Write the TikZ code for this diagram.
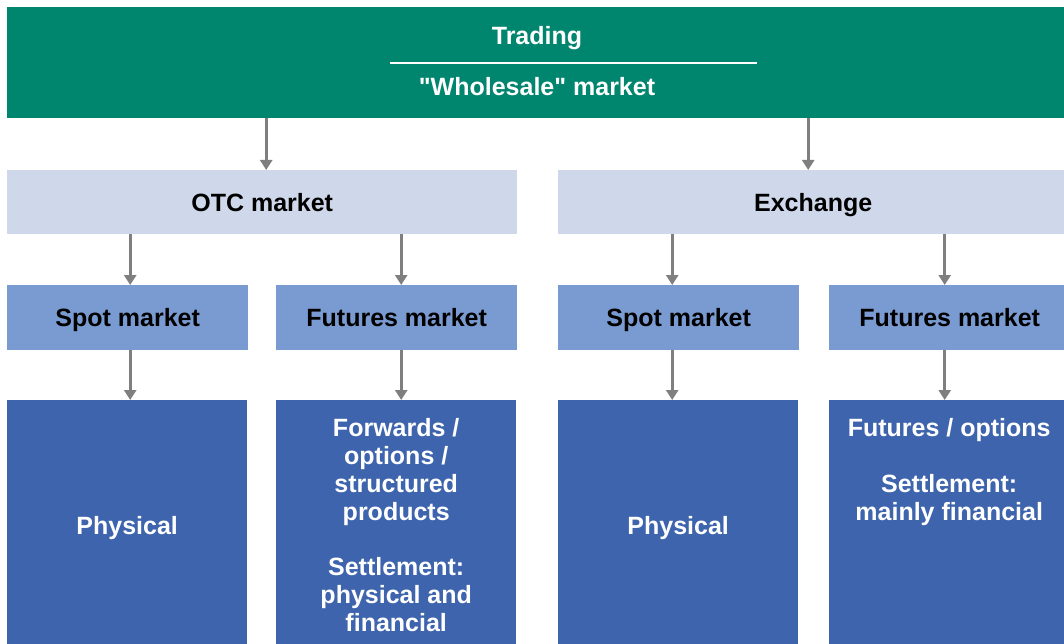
\documentclass[tikz,border=0pt]{standalone}
\usepackage{fontspec}
\setmainfont{Liberation Sans}[Ligatures=TeXOff]
\usetikzlibrary{arrows.meta}

\definecolor{tradegreen}{HTML}{00856F}
\definecolor{marketblue}{HTML}{CFD8EA}
\definecolor{segmentblue}{HTML}{7A9BD1}
\definecolor{productblue}{HTML}{3D64AD}
\definecolor{arrowgray}{HTML}{7F7F7F}

\tikzset{
  box/.style={anchor=north west, inner sep=0pt, text height=18pt, text depth=0pt, font=\bfseries\fontsize{25}{28}\selectfont},
  marketbox/.style={box, fill=marketblue, text=black, minimum width=510pt, minimum height=64pt},
  segmentbox/.style={box, fill=segmentblue, text=black, minimum width=241pt, minimum height=65pt},
  productbox/.style={box, fill=productblue, text=white, minimum width=240pt, minimum height=250pt},
  prodtext/.style={anchor=north, inner sep=0pt, text=white, align=center, font=\bfseries\fontsize{25}{28}\selectfont},
  arr/.style={draw=arrowgray, line width=3pt, -{Triangle[width=12pt,length=10pt]}}
}

\begin{document}
\begin{tikzpicture}[x=1pt,y=-1pt]
\useasboundingbox (0,0) rectangle (1064,644);
\clip (0,0) rectangle (1064,644);

% Top band
\node[anchor=north west, inner sep=0pt, fill=tradegreen, minimum width=1070pt, minimum height=111pt] (trading) at (7,7) {};
\node[anchor=base, inner sep=0pt, text=white, font=\bfseries\fontsize{25}{28}\selectfont] (tradinglabel) at (537,45) {Trading};
\node[anchor=base, inner sep=0pt, text=white, font=\bfseries\fontsize{25}{28}\selectfont] (wholesale) at (537,96) {"Wholesale" market};
\draw[white, line width=2pt] (390,63) -- (757,63);

% Market level
\node[marketbox] (otc) at (7,170) {OTC market};
\node[marketbox] (exchange) at (558,170) {Exchange};

% Segment level
\node[segmentbox] (spototc) at (7,285) {Spot market};
\node[segmentbox] (futotc) at (276,285) {Futures market};
\node[segmentbox] (spotexch) at (558,285) {Spot market};
\node[segmentbox] (futexch) at (829,285) {Futures market};

% Product level
\node[productbox] (physotc) at (7,400) {Physical};
\node[productbox] (fwdotc) at (276,400) {};
\node[prodtext] (fwdotctext) at ([yshift=-18pt]fwdotc.north) {Forwards /\\ options /\\ structured\\ products\\[27pt] Settlement:\\ physical and\\ financial};
\node[productbox] (physexch) at (558,400) {Physical};
\node[productbox] (optexch) at (829,400) {};
\node[prodtext] (optexchtext) at ([yshift=-18pt]optexch.north) {Futures / options\\[28pt] Settlement:\\ mainly financial};

% Arrow entry points
\coordinate (otcin) at ([xshift=4pt]otc.north);
\coordinate (exchin) at ([xshift=-5pt]exchange.north);
\coordinate (spototcin) at ([xshift=2.5pt]spototc.north);
\coordinate (futotcin) at ([xshift=4.5pt]futotc.north);
\coordinate (spotexchin) at ([xshift=-6.5pt]spotexch.north);
\coordinate (futexchin) at ([xshift=-5pt]futexch.north);

% Arrows
\draw[arr] (otcin |- trading.south) -- (otcin);
\draw[arr] (exchin |- trading.south) -- (exchin);
\draw[arr] (spototcin |- otc.south) -- (spototcin);
\draw[arr] (futotcin |- otc.south) -- (futotcin);
\draw[arr] (spotexchin |- exchange.south) -- (spotexchin);
\draw[arr] (futexchin |- exchange.south) -- (futexchin);
\draw[arr] (spototcin |- spototc.south) -- (spototcin |- physotc.north);
\draw[arr] (futotcin |- futotc.south) -- (futotcin |- fwdotc.north);
\draw[arr] (spotexchin |- spotexch.south) -- (spotexchin |- physexch.north);
\draw[arr] (futexchin |- futexch.south) -- (futexchin |- optexch.north);
\end{tikzpicture}
\end{document}
